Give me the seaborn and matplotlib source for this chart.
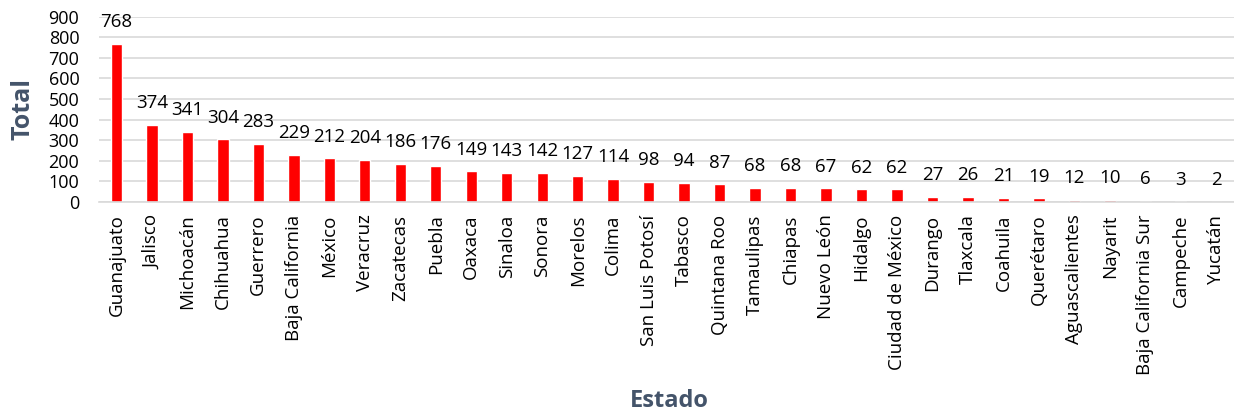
import matplotlib
matplotlib.use("Agg")
import matplotlib.pyplot as plt
import seaborn as sns
import pandas as pd

estados = ["Guanajuato", "Jalisco", "Michoacán", "Chihuahua", "Guerrero", "Baja California",
           "México", "Veracruz", "Zacatecas", "Puebla", "Oaxaca", "Sinaloa", "Sonora",
           "Morelos", "Colima", "San Luis Potosí", "Tabasco", "Quintana Roo", "Tamaulipas",
           "Chiapas", "Nuevo León", "Hidalgo", "Ciudad de México", "Durango", "Tlaxcala",
           "Coahuila", "Querétaro", "Aguascalientes", "Nayarit", "Baja California Sur",
           "Campeche", "Yucatán"]
totales = [768, 374, 341, 304, 283, 229, 212, 204, 186, 176, 149, 143, 142, 127, 114, 98,
           94, 87, 68, 68, 67, 62, 62, 27, 26, 21, 19, 12, 10, 6, 3, 2]
y_ticks = [0, 100, 200, 300, 400, 500, 600, 700, 800, 900]

sns.set_style("white")
plt.rcParams['font.family'] = ['Open Sans', 'DejaVu Sans']

df = pd.DataFrame({"Estado": estados, "Total": totales})

fig = plt.figure(figsize=(12.34, 4.15), dpi=100)
ax = fig.add_axes([0.080, 0.513, 0.920, 0.447])

sns.barplot(data=df, x="Estado", y="Total", color="#FF0000", width=0.32, ax=ax,
            saturation=1)

ax.set_ylim(0, 900)
ax.set_yticks(y_ticks)
ax.set_xlim(-0.5, len(estados) - 0.5)
ax.yaxis.grid(True, color="#D9D9D9", linewidth=1.2)
ax.set_axisbelow(True)
for s in ["top", "right", "left"]:
    ax.spines[s].set_visible(False)
ax.spines["bottom"].set_color("#D9D9D9")
ax.spines["bottom"].set_linewidth(1.2)

ax.tick_params(axis="y", length=0, labelsize=13, pad=14, labelcolor="#000000")
ax.tick_params(axis="x", length=0, labelsize=13.5, pad=9, labelcolor="#000000")
plt.setp(ax.get_xticklabels(), rotation=90)

for i, v in enumerate(totales):
    ax.annotate(str(v), xy=(i, v), xytext=(0, 12), textcoords="offset points",
                ha="center", va="baseline", fontsize=13.5, color="#000000",
                annotation_clip=False)

ax.set_ylabel("Total", fontsize=18, fontweight="bold", color="#44546A", labelpad=9)
ax.set_xlabel("Estado", fontsize=17, fontweight="bold", color="#44546A")
ax.xaxis.label.set_va("center")
ax.xaxis.set_label_coords(0.503, -1.07)

fig.savefig("out.png", dpi=100)
